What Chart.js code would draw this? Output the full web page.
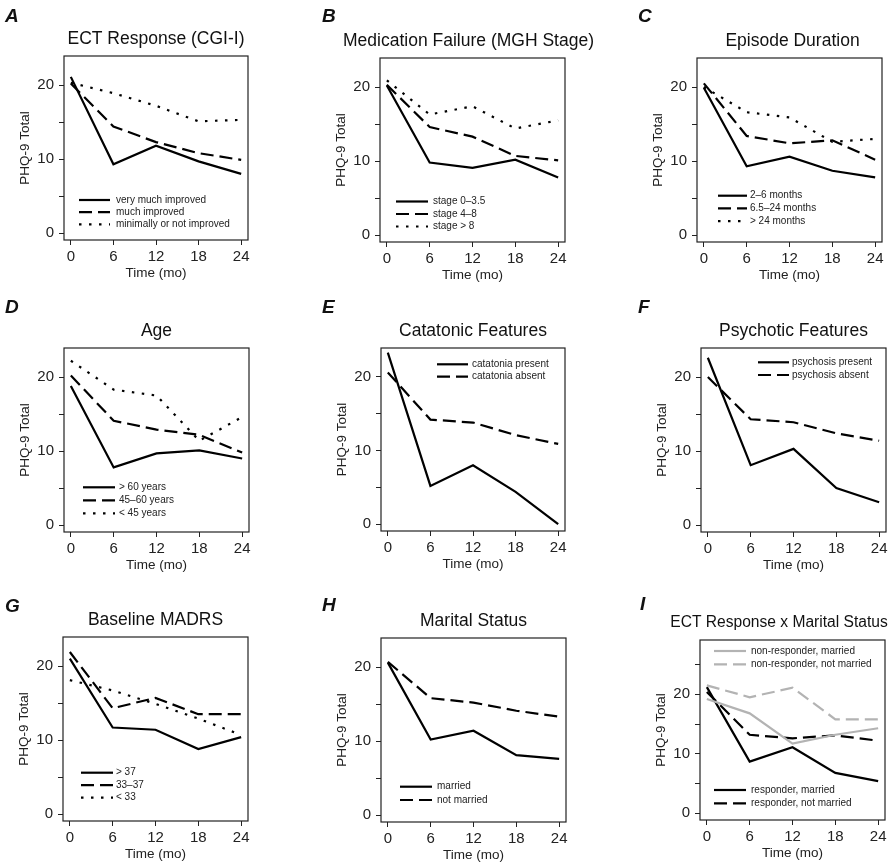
<!DOCTYPE html>
<html>
<head>
<meta charset="utf-8">
<script src="https://cdn.jsdelivr.net/npm/chart.js@4/dist/chart.umd.min.js"></script>
<style>
  html, body { margin: 0; padding: 0; background: #fff; overflow: hidden; }
  body { width: 893px; height: 868px; position: relative; }
  canvas { position: absolute; }
</style>
</head>
<body>
<script>
// x positions (months) shared by all panels
const months = [0, 6, 12, 18, 24];
const yTicks = [0, 5, 10, 15, 20];
const yTicksI = [0, 5, 10, 15, 20, 25];

// A - ECT response (CGI-I)
const ectLabels = ['very much improved', 'much improved', 'minimally or not improved'];
const ectVeryMuch = [21.1, 9.3, 11.8, 9.7, 8.0];
const ectMuch = [20.2, 14.4, 12.3, 10.8, 9.9];
const ectMinimal = [20.3, 18.9, 17.2, 15.1, 15.3];

// B - medication failure (MGH stage)
const mghLabels = ['stage 0\u20133.5', 'stage 4\u20138', 'stage > 8'];
const mghLow = [20.2, 9.8, 9.1, 10.2, 7.8];
const mghMid = [20.3, 14.6, 13.3, 10.7, 10.1];
const mghHigh = [20.9, 16.3, 17.4, 14.4, 15.5];

// C - episode duration
const durLabels = ['2\u20136 months', '6.5\u201324 months', '> 24 months'];
const durShort = [19.9, 9.3, 10.6, 8.7, 7.8];
const durMid = [20.5, 13.4, 12.4, 12.8, 10.2];
const durLong = [20.0, 16.6, 15.9, 12.6, 13.0];

// D - age
const ageLabels = ['> 60 years', '45\u201360 years', '< 45 years'];
const ageOld = [18.8, 7.8, 9.7, 10.1, 9.0];
const ageMid = [20.2, 14.1, 12.9, 12.2, 9.8];
const ageYoung = [22.2, 18.3, 17.5, 11.4, 14.6];

// E - catatonic features
const catLabels = ['catatonia present', 'catatonia absent'];
const catPresent = [23.3, 5.2, 8.0, 4.4, 0.0];
const catAbsent = [20.6, 14.2, 13.8, 12.1, 10.9];

// F - psychotic features
const psyLabels = ['psychosis present', 'psychosis absent'];
const psyPresent = [22.6, 8.1, 10.3, 5.0, 3.1];
const psyAbsent = [20.0, 14.3, 13.9, 12.4, 11.4];

// G - baseline MADRS
const madrsLabels = ['> 37', '33\u201337', '< 33'];
const madrsHigh = [21.0, 11.7, 11.4, 8.8, 10.4];
const madrsMid = [21.9, 14.3, 15.7, 13.5, 13.5];
const madrsLow = [18.1, 16.7, 14.9, 12.9, 10.7];

// H - marital status
const marLabels = ['married', 'not married'];
const marYes = [20.6, 10.2, 11.4, 8.1, 7.6];
const marNo = [20.7, 15.8, 15.2, 14.1, 13.3];

// I - ECT response x marital status
const ixLabels = ['non-responder, married', 'non-responder, not married', 'responder, married', 'responder, not married'];
const nonRespMarried = [19.2, 16.8, 11.7, 13.2, 14.3];
const nonRespNotMarried = [21.5, 19.5, 21.1, 15.8, 15.8];
const respMarried = [21.2, 8.7, 11.1, 6.8, 5.4];
const respNotMarried = [20.4, 13.2, 12.6, 13.1, 12.2];

const FONT = '"Liberation Sans", Arial, Helvetica, sans-serif';
Chart.defaults.font.family = FONT;

const BLACK = '#000000';
const GREY = '#b3b3b3';
const DASH = [13, 6];
const DOT = [2.5, 7.5];

function line(label, values, style, color) {
  return {
    label: label,
    data: months.map((m, i) => ({ x: m, y: values[i] })),
    borderColor: color || BLACK,
    borderWidth: 2.2,
    borderDash: style === 'dash' ? DASH : style === 'dot' ? DOT : [],
    borderCapStyle: 'butt',
    pointRadius: 0,
    fill: false,
    tension: 0
  };
}

// box, title, panel letter and legends drawn like base R graphics
const rPlot = {
  id: 'rPlot',
  afterDraw(chart, args, o) {
    const ctx = chart.ctx, a = chart.chartArea;
    ctx.save();
    ctx.strokeStyle = '#222';
    ctx.lineWidth = 1.2;
    ctx.setLineDash([]);
    ctx.strokeRect(a.left, a.top, a.right - a.left, a.bottom - a.top);

    ctx.fillStyle = '#111';
    ctx.font = o.titleSize + 'px ' + FONT;
    ctx.textAlign = 'center';
    ctx.textBaseline = 'middle';
    ctx.fillText(o.title, (a.left + a.right) / 2 + o.titleDx, a.top - 17);

    ctx.font = 'italic bold 19px ' + FONT;
    ctx.textAlign = 'left';
    ctx.textBaseline = 'alphabetic';
    ctx.fillText(o.letter, o.letterX - o.ox, o.letterY - o.oy);

    ctx.font = '10px ' + FONT;
    ctx.textBaseline = 'middle';
    o.legends.forEach(g => {
      g.items.forEach((di, k) => {
        const ds = chart.data.datasets[di];
        const y = g.y - o.oy + k * g.dy;
        ctx.beginPath();
        ctx.setLineDash(ds.borderDash);
        ctx.lineCap = 'butt';
        ctx.strokeStyle = ds.borderColor;
        ctx.lineWidth = ds.borderWidth;
        ctx.moveTo(g.x1 - o.ox, y);
        ctx.lineTo(g.x2 - o.ox, y);
        ctx.stroke();
        ctx.setLineDash([]);
        ctx.fillStyle = '#222';
        ctx.fillText(ds.label, g.tx - o.ox, y);
      });
    });
    ctx.restore();
  }
};

const panels = [
  { letter: 'A', lx: 5, ly: 22, title: 'ECT Response (CGI-I)', box: [64, 56, 248, 240], rp: 40,
    series: [line(ectLabels[0], ectVeryMuch, 'solid'), line(ectLabels[1], ectMuch, 'dash'), line(ectLabels[2], ectMinimal, 'dot')],
    legends: [{ items: [0, 1, 2], x1: 79, x2: 110, tx: 116, y: 200, dy: 12.2 }] },
  { letter: 'B', lx: 322, ly: 22, title: 'Medication Failure (MGH Stage)', box: [380, 58, 565, 242], rp: 40, titleDx: -4,
    series: [line(mghLabels[0], mghLow, 'solid'), line(mghLabels[1], mghMid, 'dash'), line(mghLabels[2], mghHigh, 'dot')],
    legends: [{ items: [0, 1, 2], x1: 396, x2: 428, tx: 433, y: 201.5, dy: 12.5 }] },
  { letter: 'C', lx: 638, ly: 22, title: 'Episode Duration', box: [697, 58, 882, 242], rp: 11, titleDx: 3,
    series: [line(durLabels[0], durShort, 'solid'), line(durLabels[1], durMid, 'dash'), line(durLabels[2], durLong, 'dot')],
    legends: [{ items: [0, 1, 2], x1: 718, x2: 747, tx: 750, y: 195.7, dy: 12.7 }] },
  { letter: 'D', lx: 5, ly: 313, title: 'Age', box: [64, 348, 249, 532], rp: 40,
    series: [line(ageLabels[0], ageOld, 'solid'), line(ageLabels[1], ageMid, 'dash'), line(ageLabels[2], ageYoung, 'dot')],
    legends: [{ items: [0, 1, 2], x1: 83, x2: 115, tx: 119, y: 487.3, dy: 13 }] },
  { letter: 'E', lx: 322, ly: 313, title: 'Catatonic Features', box: [381, 348, 565, 531], rp: 40,
    series: [line(catLabels[0], catPresent, 'solid'), line(catLabels[1], catAbsent, 'dash')],
    legends: [{ items: [0, 1], x1: 437, x2: 468, tx: 472, y: 364.3, dy: 12.4 }] },
  { letter: 'F', lx: 638, ly: 313, title: 'Psychotic Features', box: [701, 348, 886, 532], rp: 7,
    series: [line(psyLabels[0], psyPresent, 'solid'), line(psyLabels[1], psyAbsent, 'dash')],
    legends: [{ items: [0, 1], x1: 758, x2: 789, tx: 792, y: 362.3, dy: 12.7 }] },
  { letter: 'G', lx: 5, ly: 612, title: 'Baseline MADRS', box: [63, 637, 248, 821], rp: 40,
    series: [line(madrsLabels[0], madrsHigh, 'solid'), line(madrsLabels[1], madrsMid, 'dash'), line(madrsLabels[2], madrsLow, 'dot')],
    legends: [{ items: [0, 1, 2], x1: 81, x2: 113, tx: 116, y: 772.7, dy: 12.5 }] },
  { letter: 'H', lx: 322, ly: 611, title: 'Marital Status', box: [381, 638, 566, 822], rp: 40,
    series: [line(marLabels[0], marYes, 'solid'), line(marLabels[1], marNo, 'dash')],
    legends: [{ items: [0, 1], x1: 400, x2: 432, tx: 437, y: 786.7, dy: 13.3 }] },
  { letter: 'I', lx: 640, ly: 610, title: 'ECT Response x Marital Status', box: [700, 640, 885, 820], rp: 8,
    wide: true, titleSize: 15.6, titleDx: -13.5,
    series: [line(ixLabels[0], nonRespMarried, 'solid', GREY), line(ixLabels[1], nonRespNotMarried, 'dash', GREY),
             line(ixLabels[2], respMarried, 'solid'), line(ixLabels[3], respNotMarried, 'dash')],
    legends: [{ items: [0, 1], x1: 714, x2: 746, tx: 751, y: 651, dy: 13.3 },
              { items: [2, 3], x1: 714, x2: 746, tx: 751, y: 790, dy: 13.3 }] }
];

const AXW = 63, TOPH = 57, BOTH = 45;

panels.forEach(p => {
  const [l, t, r, b] = p.box;
  const rp = p.rp;
  const ox = l - AXW, oy = t - TOPH;
  const w = (r - l) + AXW + rp, h = (b - t) + TOPH + BOTH;
  const cv = document.createElement('canvas');
  cv.width = w; cv.height = h;
  cv.style.left = ox + 'px'; cv.style.top = oy + 'px';
  cv.style.width = w + 'px'; cv.style.height = h + 'px';
  document.body.appendChild(cv);

  const ticksY = p.wide ? yTicksI : yTicks;
  const yMin = p.wide ? -1.12 : -0.92;
  const yMax = p.wide ? 29.12 : 23.92;

  new Chart(cv, {
    type: 'line',
    data: { datasets: p.series },
    options: {
      responsive: false,
      animation: false,
      devicePixelRatio: 1,
      layout: { padding: { top: TOPH, right: rp, left: 0, bottom: 0 } },
      plugins: {
        legend: { display: false },
        tooltip: { enabled: false },
        rPlot: { title: p.title, titleSize: p.titleSize || 17.5, titleDx: p.titleDx || 0,
                 letter: p.letter, letterX: p.lx, letterY: p.ly, ox: ox, oy: oy, legends: p.legends }
      },
      scales: {
        x: {
          type: 'linear', min: -0.96, max: 24.96,
          afterBuildTicks: ax => { ax.ticks = months.map(v => ({ value: v })); },
          afterFit: ax => { ax.height = BOTH; },
          border: { display: false },
          grid: { drawOnChartArea: false, tickLength: 5, color: '#222', lineWidth: 1 },
          ticks: { padding: 3, color: '#222', font: { size: 15 }, maxRotation: 0, autoSkip: false },
          title: { display: true, text: 'Time (mo)', color: '#222', font: { size: 13.5 }, padding: { top: 0, bottom: 4 } }
        },
        y: {
          type: 'linear', min: yMin, max: yMax,
          afterBuildTicks: ax => { ax.ticks = ticksY.map(v => ({ value: v })); },
          afterFit: ax => { ax.width = AXW; },
          border: { display: false },
          grid: { drawOnChartArea: false, tickLength: 5, color: '#222', lineWidth: 1 },
          ticks: { padding: 5, color: '#222', font: { size: 15 }, autoSkip: false, callback: v => (v % 10 === 0 ? String(v) : '') },
          title: { display: true, text: 'PHQ-9 Total', color: '#222', font: { size: 13.5 }, padding: { top: 16, bottom: 0 } }
        }
      }
    },
    plugins: [rPlot]
  });
});
</script>
</body>
</html>
